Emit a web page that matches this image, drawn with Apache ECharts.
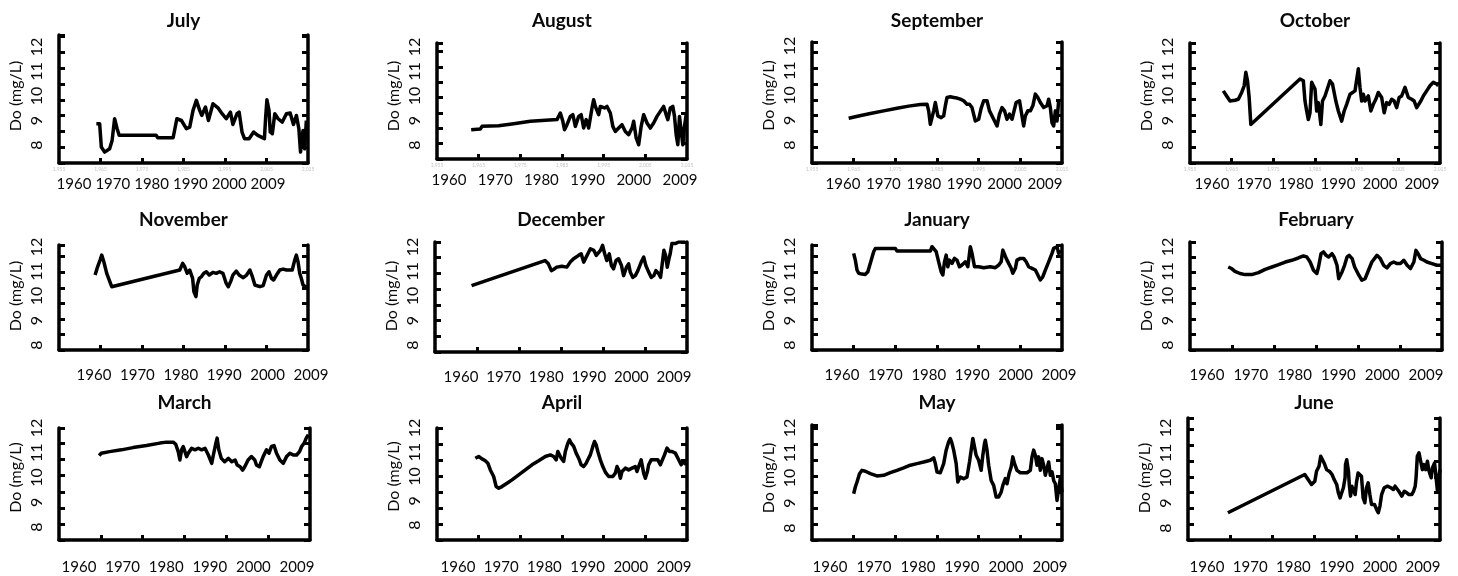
<!DOCTYPE html>
<html>
<head>
<meta charset="utf-8">
<title>Do (mg/L) by month</title>
<script src="https://cdn.jsdelivr.net/npm/echarts@6.0.0/dist/echarts.min.js"></script>
<style>
  html, body { margin: 0; padding: 0; background: #fff; }
  #chart { width: 1458px; height: 576px; }
</style>
</head>
<body>
<div id="chart"></div>
<script>
var months = ['July', 'August', 'September', 'October', 'November', 'December',
  'January', 'February', 'March', 'April', 'May', 'June'];
var yLabels = ['8', '9', '10', '11', '12'];
var xLabels = ['1960', '1970', '1980', '1990', '2000', '2009'];
// faint decade ticks of the underlying plot
var frameTicks = [1965, 1975, 1985, 1995, 2005];
var frameYears = [1955, 1965, 1975, 1985, 1995, 2005, 2015];

// [year, DO] (underlying plot units)
var july = [[1964.0,9.48],[1964.8,9.48],[1965.2,8.01],[1966.0,7.69],[1967.2,7.9],[1967.8,8.43],[1968.4,9.8],[1969.0,9.17],[1969.5,8.75],[1978.4,8.75],[1978.8,8.6],[1982.5,8.6],[1983.4,9.8],[1984.5,9.69],[1985.7,9.17],[1986.5,9.27],[1987.3,10.33],[1988.1,10.96],[1988.9,10.33],[1989.4,10.01],[1990.3,10.54],[1991.0,9.69],[1992.1,10.75],[1993.3,10.49],[1994.3,10.12],[1995.3,9.8],[1996.3,10.22],[1996.9,9.44],[1997.9,10.12],[1998.4,10.22],[1999.1,8.96],[1999.7,8.54],[2000.8,8.54],[2001.9,8.96],[2002.9,8.75],[2004.5,8.54],[2004.8,9.9],[2005.1,11.0],[2005.6,10.33],[2005.9,8.96],[2006.4,8.85],[2007.0,10.12],[2007.8,9.8],[2008.8,9.59],[2009.8,10.12],[2010.7,10.16],[2011.5,9.44],[2012.2,10.01],[2012.8,9.17],[2013.2,7.69],[2013.8,9.06],[2014.2,7.9],[2014.6,9.69]];
var august = [[1963.2,8.91],[1965.4,8.96],[1965.8,9.13],[1969.8,9.17],[1970.2,9.3],[1973.4,9.3],[1973.8,9.43],[1977.4,9.46],[1977.8,9.57],[1983.8,9.57],[1984.6,10.0],[1985.2,9.46],[1985.6,8.91],[1986.2,9.24],[1987.0,9.78],[1987.6,9.89],[1988.2,9.13],[1989.0,9.78],[1989.6,9.89],[1990.2,9.02],[1990.8,9.57],[1991.4,9.02],[1992.2,10.33],[1992.6,10.87],[1993.0,10.43],[1993.8,9.89],[1994.2,10.43],[1995.2,10.33],[1995.8,10.43],[1996.6,10.0],[1997.2,9.13],[1997.8,8.8],[1998.6,9.02],[1999.4,9.24],[2000.2,8.8],[2001.0,8.59],[2001.8,9.02],[2002.2,9.46],[2002.8,8.37],[2003.4,7.93],[2004.0,9.13],[2004.6,9.89],[2005.4,9.35],[2006.2,9.02],[2007.0,9.35],[2007.8,9.78],[2008.6,10.11],[2009.4,10.43],[2010.0,9.89],[2010.4,9.57],[2011.0,10.33],[2011.6,10.43],[2012.0,9.78],[2012.4,8.59],[2012.8,7.93],[2013.2,9.78],[2013.6,8.8],[2014.0,7.93],[2014.4,9.13],[2014.8,9.89]];
var september = [[1963.8,9.83],[1966.2,9.98],[1969.0,10.13],[1972.2,10.3],[1975.4,10.47],[1978.2,10.6],[1981.0,10.7],[1982.6,10.72],[1983.0,10.3],[1983.4,9.45],[1983.8,9.34],[1984.2,10.3],[1984.6,10.83],[1985.2,9.98],[1986.0,9.87],[1986.6,9.98],[1987.0,10.62],[1987.4,11.15],[1988.2,11.19],[1989.0,11.15],[1989.8,11.11],[1990.6,11.04],[1991.4,10.94],[1992.2,10.72],[1992.8,10.72],[1993.4,10.51],[1994.2,9.66],[1995.0,9.77],[1995.6,10.47],[1996.2,10.94],[1997.0,10.94],[1997.6,10.3],[1998.6,9.77],[1999.4,9.34],[2000.0,10.09],[2000.6,10.51],[2001.2,10.3],[2001.8,9.77],[2002.4,10.09],[2003.0,9.77],[2003.4,9.87],[2004.0,10.83],[2004.8,10.94],[2005.4,9.98],[2005.8,9.34],[2006.2,9.98],[2006.8,10.3],[2007.4,10.3],[2008.0,10.62],[2008.6,11.36],[2009.2,11.15],[2009.8,10.83],[2010.6,10.51],[2011.4,10.62],[2011.8,11.04],[2012.2,10.51],[2012.6,9.55],[2013.0,9.34],[2013.4,10.3],[2013.8,9.66],[2014.2,10.94],[2014.6,10.94]];
var october = [[1963.0,11.55],[1963.8,11.23],[1964.6,10.91],[1965.8,10.96],[1966.6,11.02],[1967.4,11.45],[1968.0,11.87],[1968.4,12.72],[1968.8,12.19],[1969.2,11.13],[1969.6,9.43],[1970.0,9.32],[1981.4,12.3],[1982.2,12.19],[1982.6,10.91],[1983.0,10.28],[1983.4,9.74],[1983.8,10.17],[1984.2,12.09],[1984.6,11.87],[1985.0,11.66],[1985.4,10.28],[1985.8,10.81],[1986.4,9.43],[1986.8,10.91],[1987.4,11.23],[1987.8,11.13],[1988.6,12.19],[1989.2,11.98],[1990.0,10.91],[1990.6,10.28],[1991.4,9.64],[1992.0,10.28],[1992.6,10.7],[1993.4,11.34],[1993.8,11.23],[1994.6,11.55],[1995.4,12.94],[1995.8,11.77],[1996.2,10.91],[1996.6,11.34],[1997.0,10.91],[1997.8,11.23],[1998.4,10.28],[1999.0,10.7],[1999.6,11.02],[2000.2,11.45],[2001.0,11.13],[2001.6,10.17],[2002.2,10.81],[2002.8,10.7],[2003.4,11.02],[2004.0,10.91],[2004.6,10.49],[2005.2,11.13],[2005.8,11.23],[2006.6,11.77],[2007.4,11.13],[2008.2,11.02],[2008.8,10.91],[2009.4,10.49],[2009.8,10.38],[2010.4,10.91],[2011.0,11.23],[2011.8,11.55],[2012.6,11.87],[2013.4,12.09],[2014.2,11.98],[2014.6,11.87]];
var november = [[1963.7,11.82],[1964.3,12.35],[1964.9,12.78],[1965.3,13.1],[1965.8,12.67],[1966.5,11.93],[1967.7,11.07],[1968.1,10.96],[1984.1,12.14],[1984.8,12.57],[1985.3,12.35],[1985.9,11.93],[1986.5,12.14],[1987.2,11.6],[1987.5,10.75],[1988.0,10.43],[1988.3,11.18],[1988.8,11.6],[1989.3,11.71],[1989.9,11.93],[1990.5,12.03],[1991.2,11.82],[1992.1,11.99],[1992.9,11.93],[1993.7,12.03],[1994.5,11.93],[1995.3,11.28],[1995.8,11.07],[1996.4,11.43],[1996.9,11.82],[1997.7,12.07],[1998.4,11.82],[1999.4,11.65],[2000.2,11.82],[2001.0,12.14],[2001.6,11.71],[2002.2,11.18],[2003.4,11.07],[2004.2,11.14],[2005.0,11.82],[2005.6,12.03],[2006.2,11.6],[2006.7,11.5],[2007.4,11.82],[2008.2,12.14],[2009.0,12.2],[2009.8,12.14],[2010.6,12.14],[2011.2,12.14],[2011.8,12.78],[2012.2,13.1],[2012.6,12.67],[2013.0,11.93],[2013.4,11.6],[2013.8,11.18],[2014.4,11.07],[2015.0,10.96]];
var december = [[1963.7,11.22],[1981.2,12.82],[1981.6,12.93],[1982.0,12.61],[1982.7,12.18],[1983.2,12.25],[1984.0,12.4],[1985.2,12.46],[1986.4,12.4],[1987.2,12.72],[1988.0,12.93],[1989.2,13.15],[1989.8,13.25],[1990.4,12.72],[1990.8,12.61],[1991.4,13.25],[1992.0,13.57],[1992.8,13.47],[1993.4,13.15],[1993.8,13.04],[1994.4,13.47],[1994.9,13.79],[1995.4,13.25],[1995.9,12.82],[1996.5,13.25],[1997.0,12.5],[1997.5,12.29],[1998.1,12.82],[1998.7,12.93],[1999.4,12.5],[1999.9,11.86],[2000.6,12.4],[2001.1,12.61],[2001.5,12.07],[2002.1,11.75],[2002.7,11.86],[2003.3,12.18],[2004.1,12.72],[2004.7,13.04],[2005.2,12.5],[2005.9,12.07],[2006.5,11.75],[2007.1,11.86],[2007.6,12.18],[2008.3,11.97],[2008.7,11.75],[2009.1,12.61],[2009.5,13.47],[2009.9,13.15],[2010.3,12.4],[2010.7,12.93],[2011.0,13.25],[2011.4,13.9],[2012.2,13.9],[2013.0,14.0],[2014.6,14.0]];
var january = [[1965.0,13.21],[1965.4,12.78],[1965.8,12.14],[1966.2,11.93],[1967.0,11.88],[1967.8,11.86],[1968.4,12.03],[1969.0,12.57],[1969.8,13.32],[1970.2,13.53],[1975.0,13.53],[1975.4,13.36],[1983.4,13.36],[1983.8,13.64],[1984.2,13.75],[1984.8,13.32],[1985.4,12.67],[1986.0,12.03],[1986.4,11.82],[1986.8,12.67],[1987.2,13.1],[1987.6,12.35],[1988.0,12.78],[1988.6,12.57],[1989.2,12.89],[1989.8,12.78],[1990.4,12.35],[1991.0,12.46],[1991.8,12.67],[1992.4,12.35],[1992.8,13.21],[1993.0,13.64],[1993.4,13.21],[1994.0,12.35],[1995.0,12.35],[1996.2,12.29],[1997.8,12.35],[1999.0,12.29],[1999.8,12.46],[2000.4,12.67],[2000.8,13.42],[2001.2,13.53],[2001.6,12.89],[2002.2,12.57],[2002.8,12.25],[2003.2,11.93],[2003.8,12.25],[2004.2,12.78],[2005.0,12.89],[2005.8,12.89],[2006.4,12.67],[2007.0,12.35],[2007.8,12.25],[2008.6,12.14],[2009.0,11.93],[2009.4,11.71],[2009.8,11.5],[2010.4,11.71],[2011.0,12.14],[2011.8,12.67],[2012.6,13.21],[2013.0,13.53],[2013.8,13.64],[2014.2,13.21],[2014.6,13.42]];
var february = [[1964.1,12.35],[1964.9,12.25],[1965.7,12.07],[1966.9,11.93],[1968.1,11.86],[1969.7,11.86],[1971.3,11.99],[1972.9,12.2],[1974.5,12.35],[1976.1,12.5],[1977.7,12.67],[1979.2,12.78],[1980.8,12.93],[1982.0,13.06],[1982.8,13.0],[1983.6,12.67],[1984.4,12.14],[1985.2,11.93],[1985.6,12.35],[1986.2,13.21],[1986.8,13.32],[1987.4,13.1],[1988.0,13.0],[1988.8,13.21],[1989.3,13.0],[1990.0,12.46],[1990.4,11.6],[1990.8,11.5],[1991.2,12.03],[1991.8,12.46],[1992.4,13.0],[1992.9,13.1],[1993.6,12.89],[1994.2,12.35],[1995.2,11.82],[1995.9,11.5],[1996.7,11.6],[1997.5,12.14],[1998.3,12.67],[1999.5,13.1],[2000.3,12.89],[2001.1,12.46],[2001.9,12.29],[2002.7,12.57],[2003.5,12.67],[2004.3,12.57],[2005.1,12.57],[2005.9,12.78],[2006.7,12.46],[2007.5,12.25],[2008.3,12.67],[2008.8,13.42],[2009.3,13.21],[2009.9,12.89],[2010.7,12.78],[2011.4,12.67],[2012.6,12.57],[2013.8,12.46],[2015.0,12.46]];
var march = [[1964.6,12.25],[1965.1,12.4],[1967.1,12.5],[1969.9,12.61],[1972.7,12.75],[1975.9,12.88],[1979.1,13.03],[1980.7,13.09],[1982.3,13.09],[1982.9,12.96],[1983.5,12.5],[1983.9,11.98],[1984.3,12.61],[1984.7,12.82],[1985.1,12.5],[1985.5,12.19],[1985.9,12.4],[1986.7,12.71],[1987.5,12.61],[1988.3,12.71],[1989.1,12.61],[1989.9,12.71],[1990.7,12.29],[1991.5,11.77],[1991.9,12.29],[1992.5,13.03],[1992.8,13.34],[1993.2,12.61],[1993.8,12.08],[1994.6,11.87],[1995.5,12.08],[1996.3,11.87],[1997.1,11.98],[1997.6,11.67],[1998.3,11.56],[1998.9,11.35],[1999.4,11.56],[2000.2,11.98],[2001.0,12.19],[2001.8,11.98],[2002.2,11.67],[2002.9,11.56],[2003.8,12.19],[2004.6,12.61],[2005.2,12.4],[2005.8,12.82],[2006.4,12.88],[2007.0,12.4],[2007.8,11.98],[2008.6,11.77],[2009.4,12.19],[2010.2,12.4],[2011.0,12.29],[2011.8,12.29],[2012.5,12.5],[2013.0,12.82],[2013.6,13.03],[2014.1,13.34],[2014.6,13.55]];
var april = [[1964.2,12.11],[1965.0,12.22],[1965.8,12.07],[1966.6,11.95],[1967.2,11.8],[1967.8,11.38],[1968.6,10.97],[1969.2,10.34],[1969.8,10.24],[1970.6,10.34],[1971.8,10.55],[1973.0,10.76],[1974.6,11.07],[1976.2,11.38],[1977.8,11.7],[1979.4,11.95],[1981.0,12.22],[1982.2,12.32],[1983.0,12.22],[1983.6,12.01],[1984.0,12.53],[1984.4,12.64],[1984.8,12.11],[1985.4,11.91],[1985.8,12.53],[1986.4,13.05],[1986.8,13.26],[1987.2,13.05],[1987.8,12.85],[1988.4,12.43],[1989.0,12.11],[1989.6,11.7],[1990.2,11.59],[1990.8,11.8],[1991.2,12.01],[1991.8,12.32],[1992.4,12.85],[1992.8,13.16],[1993.2,12.95],[1993.6,12.53],[1994.2,12.01],[1994.8,11.59],[1995.4,11.24],[1996.2,10.97],[1997.2,10.97],[1997.8,11.18],[1998.2,11.59],[1998.6,11.38],[1999.0,10.86],[1999.4,11.28],[2000.2,11.49],[2001.0,11.38],[2001.8,11.49],[2002.6,11.59],[2003.0,11.28],[2003.4,11.59],[2004.0,12.01],[2004.6,11.18],[2005.0,10.86],[2005.5,11.28],[2005.8,11.7],[2006.4,12.01],[2007.2,12.01],[2008.0,12.01],[2008.6,11.7],[2009.0,11.7],[2009.6,12.32],[2010.2,12.74],[2010.8,12.53],[2011.4,12.53],[2012.2,12.43],[2013.0,12.01],[2013.6,11.7],[2014.2,11.91],[2014.8,11.7]];
var may = [[1965.0,9.89],[1965.4,10.31],[1965.8,10.62],[1966.4,11.14],[1967.0,11.35],[1967.8,11.29],[1969.0,11.14],[1970.6,11.0],[1972.2,11.04],[1973.8,11.2],[1975.4,11.35],[1977.0,11.5],[1978.6,11.67],[1980.2,11.77],[1981.8,11.87],[1983.4,11.98],[1984.2,12.13],[1984.6,11.77],[1985.0,11.25],[1985.8,11.2],[1986.6,11.77],[1987.2,12.61],[1987.8,13.13],[1988.2,13.34],[1988.6,13.03],[1989.0,12.61],[1989.6,11.77],[1990.0,10.62],[1990.6,10.93],[1991.4,10.83],[1992.2,10.93],[1992.8,11.87],[1993.2,12.61],[1993.6,13.34],[1994.0,12.82],[1994.4,12.29],[1995.0,11.98],[1995.6,11.35],[1996.0,12.29],[1996.4,13.03],[1996.6,13.23],[1997.0,12.61],[1997.4,11.67],[1998.0,10.72],[1998.6,10.41],[1999.2,9.68],[1999.8,9.68],[2000.4,9.99],[2000.8,10.41],[2001.4,10.83],[2001.8,10.51],[2002.3,11.14],[2002.8,11.56],[2003.2,12.19],[2003.6,11.77],[2004.2,11.35],[2005.0,11.2],[2005.8,11.2],[2006.6,11.2],[2007.4,11.35],[2007.8,12.19],[2008.2,12.61],[2008.6,12.29],[2009.0,11.67],[2009.4,12.19],[2009.8,11.35],[2010.2,12.08],[2010.6,11.67],[2011.0,11.04],[2011.4,11.46],[2011.8,11.87],[2012.2,11.04],[2012.6,11.25],[2013.0,10.72],[2013.4,10.51],[2013.8,9.47],[2014.2,10.2],[2014.6,10.83],[2015.0,9.99]];
var june = [[1964.5,8.73],[1982.8,11.15],[1983.6,10.83],[1984.4,10.52],[1984.8,10.41],[1985.2,10.73],[1985.6,11.36],[1986.2,11.67],[1986.6,12.31],[1987.0,12.41],[1987.4,11.88],[1988.0,11.46],[1988.8,11.32],[1989.3,11.15],[1989.8,10.83],[1990.4,10.52],[1990.8,9.99],[1991.2,9.67],[1991.6,9.99],[1992.0,10.31],[1992.4,10.94],[1992.5,11.78],[1992.8,12.09],[1993.2,11.36],[1993.4,10.52],[1993.7,9.78],[1994.0,10.41],[1994.4,10.52],[1994.8,9.88],[1995.1,10.62],[1995.5,11.25],[1995.9,11.36],[1996.3,11.04],[1996.7,9.67],[1997.1,9.36],[1997.5,10.31],[1997.9,10.62],[1998.3,9.88],[1998.7,9.25],[1999.4,9.25],[1999.9,8.94],[2000.3,8.73],[2000.7,9.15],[2001.1,9.88],[2001.7,10.31],[2002.5,10.41],[2003.3,10.31],[2003.9,10.2],[2004.3,10.41],[2004.7,10.52],[2005.2,10.09],[2005.9,9.78],[2006.5,10.09],[2007.1,9.99],[2007.6,9.88],[2008.3,9.88],[2008.7,10.09],[2009.1,10.41],[2009.3,10.94],[2009.6,12.31],[2010.0,12.52],[2010.4,11.99],[2010.8,11.46],[2011.2,11.78],[2011.6,11.46],[2012.0,11.99],[2012.4,11.36],[2012.9,10.94],[2013.2,11.57],[2013.7,11.88],[2014.0,11.15],[2014.4,10.09],[2014.6,10.73],[2015.0,11.46]];

var monthData = [july, august, september, october, november, december,
  january, february, march, april, may, june];

// frame [left, top, width, height] and top of the DO axis;
// xAt: centres of the '1960' and '2009' labels, yAt: centres of '8' and '12'
var layout = [
  {box: [59, 35, 249, 128], yTop: 15.1, xAt: [74, 268], yAt: [145, 47]},
  {box: [437, 43, 250, 116], yTop: 14.57, xAt: [449, 680], yAt: [145, 47]},
  {box: [812, 42, 250, 121], yTop: 14.66, xAt: [843, 1045], yAt: [145, 46]},
  {box: [1190, 43, 250, 120], yTop: 14.57, xAt: [1212, 1422], yAt: [145, 47]},
  {box: [59, 245, 249, 105], yTop: 13.75, xAt: [94, 311], yAt: [345, 247]},
  {box: [435, 242, 252, 110], yTop: 14.0, xAt: [461, 674], yAt: [345, 247]},
  {box: [812, 245, 250, 105], yTop: 13.75, xAt: [842, 1059], yAt: [345, 247]},
  {box: [1190, 242, 252, 108], yTop: 13.96, xAt: [1207, 1426], yAt: [345, 247]},
  {box: [59, 428, 251, 112], yTop: 13.97, xAt: [79, 297], yAt: [527, 428]},
  {box: [437, 428, 250, 112], yTop: 14.0, xAt: [458, 674], yAt: [525, 428]},
  {box: [812, 425, 250, 115], yTop: 14.18, xAt: [830, 1050], yAt: [528, 428]},
  {box: [1188, 418, 252, 122], yTop: 14.73, xAt: [1207, 1423], yAt: [528, 428]}
];
var rows = [
  {titleY: 22, xMargin: 14},
  {titleY: 221, xMargin: 18},
  {titleY: 404, xMargin: 20}
];

var font = 'Lato, "Liberation Sans", sans-serif';
var ink = '#0a0a0a';

var chart = echarts.init(document.getElementById('chart'));

var grid = [], xAxis = [], yAxis = [], series = [], title = [];
var hidden = {show: false};

months.forEach(function (name, i) {
  var p = layout[i];
  var row = rows[Math.floor(i / 4)];
  var b = p.box;
  var g = grid.length;

  // 1) the plot frame
  grid.push({left: b[0], top: b[1], width: b[2], height: b[3], outerBoundsMode: 'none'});
  // 2) strip carrying the printed year labels
  var xp = (p.xAt[1] - p.xAt[0]) / (xLabels.length - 1);
  grid.push({left: p.xAt[0] - xp / 2, width: xp * xLabels.length,
    top: b[1] + b[3] - 2, height: 2, outerBoundsMode: 'none'});
  // 3) strip carrying the printed DO labels
  var yp = (p.yAt[0] - p.yAt[1]) / (yLabels.length - 1);
  grid.push({left: b[0], width: 2, top: p.yAt[1] - yp / 2,
    height: yp * yLabels.length, outerBoundsMode: 'none'});

  title.push({
    text: name,
    left: b[0] + b[2] / 2,
    top: row.titleY - 11,
    textAlign: 'center',
    padding: 0,
    textStyle: {fontFamily: font, fontWeight: 'bold', fontSize: 19, color: ink}
  });

  xAxis.push({
    gridIndex: g, type: 'value', position: 'bottom', min: 1955, max: 2015,
    axisLine: {onZero: false, lineStyle: {color: '#000', width: 3.5}},
    axisTick: {inside: true, length: 5, customValues: frameTicks, lineStyle: {color: '#000', width: 3}},
    axisLabel: {
      show: i < 4, customValues: frameYears, margin: 4,
      fontSize: 5, color: '#c4c4c4', fontFamily: font
    },
    splitLine: {show: false}
  });
  xAxis.push({
    gridIndex: g + 1, type: 'category', position: 'bottom', data: xLabels,
    axisLine: {show: false, onZero: false}, axisTick: hidden,
    axisLabel: {interval: 0, margin: row.xMargin, fontSize: 15, color: ink, fontFamily: font}
  });
  xAxis.push({gridIndex: g + 2, type: 'value', show: false});

  var frameY = {
    gridIndex: g, type: 'value', min: 7, max: p.yTop, interval: 1,
    axisLine: {onZero: false, lineStyle: {color: '#000', width: 3.5}},
    axisTick: {inside: true, length: 6, lineStyle: {color: '#000', width: 3}},
    axisLabel: hidden,
    splitLine: hidden
  };
  yAxis.push(Object.assign({position: 'left'}, frameY));
  yAxis.push(Object.assign({position: 'right'}, frameY));
  yAxis.push({gridIndex: g + 1, type: 'value', show: false});
  yAxis.push({
    gridIndex: g + 2, type: 'category', position: 'left', data: yLabels,
    axisLine: {show: false, onZero: false}, axisTick: hidden,
    axisLabel: {interval: 0, rotate: 90, margin: 14, fontSize: 16, color: ink, fontFamily: font},
    name: 'Do (mg/L)', nameLocation: 'middle', nameGap: 35,
    nameTextStyle: {fontSize: 16, color: ink, fontFamily: font}
  });

  series.push({
    name: name, type: 'line',
    xAxisIndex: i * 3, yAxisIndex: i * 4,
    data: monthData[i],
    symbol: 'none',
    lineStyle: {color: '#000', width: 3.5, join: 'round'}
  });
});

chart.setOption({
  backgroundColor: '#fff',
  animation: false,
  title: title,
  grid: grid,
  xAxis: xAxis,
  yAxis: yAxis,
  series: series
});

window.addEventListener('resize', function () {
  chart.resize();
});
</script>
</body>
</html>
